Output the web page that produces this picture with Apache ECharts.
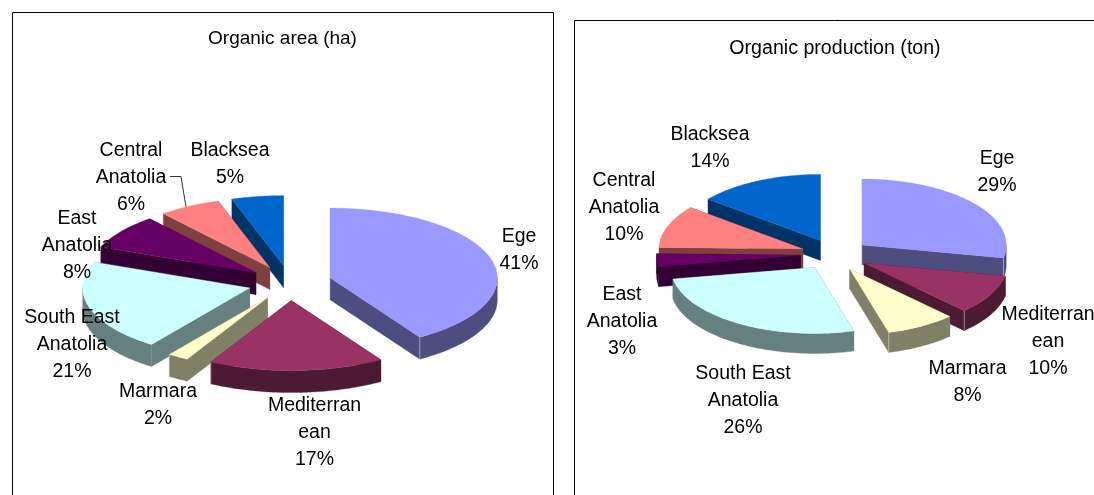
<!DOCTYPE html>
<html><head><meta charset="utf-8">
<style>html,body{margin:0;padding:0;background:#fff}#c{width:1094px;height:495px}</style>
<script src="https://cdn.jsdelivr.net/npm/echarts@6/dist/echarts.min.js"></script>
</head><body><div id="c"></div>
<script>
const categories = ['Ege','Mediterran\nean','Marmara','South East\nAnatolia','East\nAnatolia','Central\nAnatolia','Blacksea'];
const areaShares = [41,17,2,21,8,6,5];
const productionShares = [29,10,8,26,3,10,14];
const topColors = ['#9999FF','#993366','#FFFFCC','#CCFFFF','#660066','#FF8080','#0066CC'];
const sideColors = ['#4D4D80','#4D1A33','#808066','#668080','#330033','#804040','#003366'];

const areaView = {title:'Organic area (ha)', titleAt:[282.5,39], titleSize:19, cx:290, cy:283, rx:167, ry:70, explode:42, depth:22, skew:0,
  labels:[[519,250.5],[314.5,433],[158,405.5],[72,345],[77,246],[131,178],[230,164.5]]};
const productionView = {title:'Organic production (ton)', titleAt:[835,49], titleSize:19.6, cx:835, cy:254.7, rx:144, ry:66, explode:34.5, depth:20, skew:2.5,
  labels:[[997,172.5],[1048,342],[967.5,382.5],[743,401],[622,322],[624,208],[710,148.5]]};

const RAD = Math.PI/180;
const font = '"Liberation Sans", Arial, sans-serif';

function makeSeries(shares, view){
  const total = shares.reduce((a,b)=>a+b,0);
  let acc = 0;
  const spans = shares.map(v=>{const s=acc/total*360; acc+=v; return [s,acc/total*360];});
  const midOf = i => (spans[i][0]+spans[i][1])/2;
  // back-to-front drawing order
  const order = shares.map((_,i)=>i).sort((a,b)=>Math.cos(midOf(b)*RAD)-Math.cos(midOf(a)*RAD));
  const {cx,cy,rx,ry,explode,depth,skew} = view;
  const kY = ry/rx;
  const shown = t => t - skew*(1-Math.cos(t*RAD));
  return {
    type:'custom', coordinateSystem:'none', silent:true, animation:false, clip:false,
    data: order.map(i=>[i]),
    renderItem(params, api){
      const i = api.value(0);
      const rank = order.indexOf(i);
      const mid = midOf(i)*RAD;
      const ax = cx + explode*Math.sin(mid);
      const ay = cy - explode*Math.cos(mid)*kY;
      const rim = t => {const a=shown(t)*RAD; return [ax+rx*Math.sin(a), ay-ry*Math.cos(a)];};
      const down = p => [p[0],p[1]+depth];
      const [s,e] = spans[i];
      const arc = [];
      const steps = Math.max(2,Math.ceil((e-s)/1.5));
      for(let k=0;k<=steps;k++) arc.push(s+(e-s)*k/steps);
      const poly = (points,fill,z) => ({type:'polygon',z2:rank*10+z,
        shape:{points},style:{fill,stroke:fill,lineWidth:0.3}});
      const apex=[ax,ay], p0=rim(s), p1=rim(e);
      const side = sideColors[i];
      const kids = [
        poly([apex,p0,down(p0),down(apex)],side,1),
        poly([apex,p1,down(p1),down(apex)],side,1)
      ];
      const front = arc.filter(t=>Math.cos(shown(t)*RAD)<=0.02);
      if(front.length>1){
        const top = front.map(rim);
        kids.push(poly(top.concat(top.map(down).reverse()),side,2));
      }
      if(e>90 && e<220){
        kids.push({type:'line',z2:rank*10+3,shape:{x1:p1[0],y1:p1[1],x2:p1[0],y2:p1[1]+depth},
          style:{stroke:'rgba(255,255,255,0.5)',lineWidth:0.8}});
      }
      kids.push(poly([apex].concat(arc.map(rim)),topColors[i],4));
      kids.push({type:'text',z2:1000,x:view.labels[i][0],y:view.labels[i][1],
        style:{text:categories[i]+'\n'+shares[i]+'%',font:'19.5px '+font,lineHeight:27,
          fill:'#000',align:'center',verticalAlign:'middle'}});
      return {type:'group',children:kids};
    }
  };
}

const frame = (x,y,w,h)=>({type:'rect',shape:{x:x+.5,y:y+.5,width:w,height:h},style:{fill:'#fff',stroke:'#000',lineWidth:1},z:-10,silent:true});
const titleOf = v=>({type:'text',x:v.titleAt[0],y:v.titleAt[1],z:5,silent:true,
  style:{text:v.title,font:v.titleSize+'px '+font,fill:'#000',align:'center',verticalAlign:'middle'}});

const chart = echarts.init(document.getElementById('c'),null,{renderer:'canvas'});
chart.setOption({
  animation:false,
  backgroundColor:'#fff',
  graphic:[
    frame(12,12,541,500), frame(574,20,540,500),
    titleOf(areaView), titleOf(productionView),
    {type:'polyline',z:50,silent:true,shape:{points:[[170,176.5],[181,176.5],[186,207]]},style:{fill:null,stroke:'#000',lineWidth:0.8}}
  ],
  series:[makeSeries(areaShares,areaView),makeSeries(productionShares,productionView)]
});
</script></body></html>
